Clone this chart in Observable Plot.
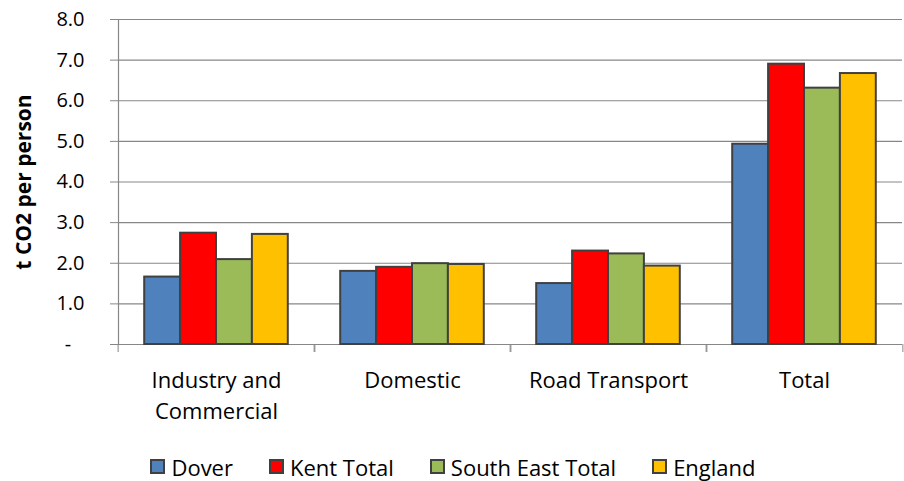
<!DOCTYPE html>
<html>
<head>
<meta charset="utf-8">
<script src="https://cdn.jsdelivr.net/npm/d3@7"></script>
<script src="https://cdn.jsdelivr.net/npm/@observablehq/plot@0.6"></script>
<style>
  html, body { margin: 0; padding: 0; background: #fff; }
  #chart { width: 904px; height: 481px; position: relative; font-family: "Open Sans", sans-serif; }
  #legend { display: flex; justify-content: center; align-items: center; height: 41px; box-sizing: border-box; padding-top: 12px; padding-left: 2px; }
  .item { display: flex; align-items: center; margin: 0 18px; font-size: 22px; color: #000; }
  .sw { width: 15px; height: 15px; box-sizing: border-box; border: 2px solid #404040; margin-right: 6px; }
</style>
</head>
<body>
<div id="chart"></div>
<script>
const categories = ["Industry and Commercial", "Domestic", "Road Transport", "Total"];
const series = ["Dover", "Kent Total", "South East Total", "England"];
const dover = [1.66, 1.80, 1.50, 4.93];
const kentTotal = [2.74, 1.90, 2.30, 6.90];
const southEastTotal = [2.09, 1.99, 2.23, 6.31];
const england = [2.71, 1.97, 1.93, 6.67];
const colors = ["#4F81BD", "#FF0000", "#9BBB59", "#FFC000"];
const yTicks = [0, 1, 2, 3, 4, 5, 6, 7, 8];
const yLabel = "t CO2 per person";

const valuesBySeries = [dover, kentTotal, southEastTotal, england];
const data = [];
categories.forEach((c, i) => {
  series.forEach((s, j) => {
    data.push({category: c, series: s, value: valuesBySeries[j][i]});
  });
});

const W = 904, H = 440, ML = 116, MR = 1;
const step = (W - ML - MR) / categories.length;
const grey = "#878787";

const chart = Plot.plot({
  width: W,
  height: H,
  marginLeft: ML,
  marginRight: MR,
  marginTop: 19,
  marginBottom: 96,
  style: {fontFamily: "'Open Sans', sans-serif", fontSize: "20px", color: "#000", background: "#fff"},
  fx: {domain: categories, padding: 0, label: null, axis: null},
  x: {domain: series, paddingInner: 0, paddingOuter: 0.73, round: false, axis: null},
  y: {domain: [0, 8], label: null, axis: null},
  color: {domain: series, range: colors},
  marks: [
    Plot.gridY(yTicks, {stroke: grey, strokeOpacity: 1, strokeWidth: 1.2}),
    Plot.barY(data, {fx: "category", x: "series", y: "value", fill: "series", stroke: "#404040", strokeWidth: 2, strokeOpacity: 1, inset: 0}),
    Plot.axisY(yTicks, {
      tickSize: 8, tickPadding: 26, stroke: grey, fontSize: 20, label: null,
      tickFormat: d => d === 0 ? "-\u2002\u2009" : d.toFixed(1)
    }),
    Plot.axisFx({
      anchor: "bottom", tickSize: 0, tickPadding: 21, fontSize: 22, lineHeight: 1.41, label: null,
      tickFormat: d => d === "Industry and Commercial" ? "Industry and\nCommercial" : d
    }),
    Plot.axisFx({anchor: "bottom", tickSize: 8, tickFormat: () => "", dx: -step / 2, stroke: grey, label: null}),
    Plot.axisFx([categories[categories.length - 1]], {anchor: "bottom", tickSize: 8, tickFormat: () => "", dx: step / 2, stroke: grey, label: null}),
    Plot.frame({anchor: "left", facet: "super", stroke: grey, strokeWidth: 1.2}),
    Plot.text([{category: categories[0]}], {
      fx: "category", text: () => yLabel, frameAnchor: "left", rotate: -90, dx: -94,
      fontWeight: "bold", fontSize: 21, textAnchor: "middle"
    })
  ]
});

const root = document.getElementById("chart");
root.appendChild(chart);

const legend = document.createElement("div");
legend.id = "legend";
series.forEach((s, j) => {
  const item = document.createElement("div");
  item.className = "item";
  const sw = document.createElement("span");
  sw.className = "sw";
  sw.style.background = colors[j];
  const t = document.createElement("span");
  t.textContent = s;
  item.appendChild(sw);
  item.appendChild(t);
  legend.appendChild(item);
});
root.appendChild(legend);
</script>
</body>
</html>
